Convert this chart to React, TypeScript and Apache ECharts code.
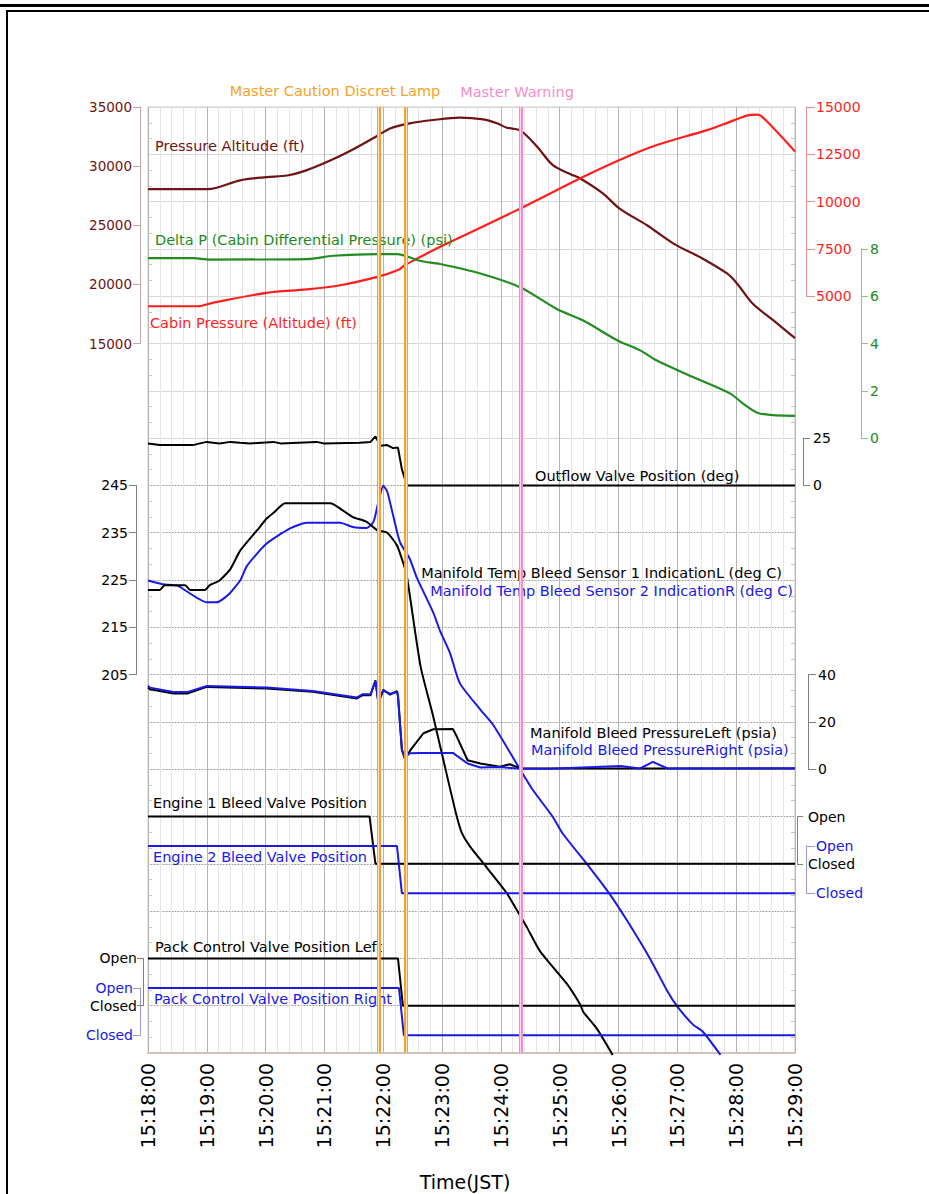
import React, { useEffect, useRef } from "react";
import * as echarts from "echarts";

// ---------- tick labels ----------
const timeLabels = ["15:18:00", "15:19:00", "15:20:00", "15:21:00", "15:22:00", "15:23:00", "15:24:00", "15:25:00", "15:26:00", "15:27:00", "15:28:00", "15:29:00"];
const tempTicks = [205, 215, 225, 235, 245];

// ---------- data (t = seconds after 15:18:00) ----------
const altT = [0, 61, 94, 121, 142, 160, 183, 209, 234, 247, 267, 291, 318, 342, 356, 366, 380, 397, 413, 431, 441, 464, 481, 509, 536, 566, 591, 601, 617, 638, 660];
const altV = [28050, 28050, 28800, 29070, 29210, 29600, 30360, 31410, 32570, 33190, 33620, 33900, 34100, 33950, 33620, 33250, 33000, 31640, 30080, 29320, 28950, 27690, 26410, 25000, 23450, 22170, 20900, 20060, 18360, 16950, 15450];

const cabT = [0, 51, 66, 121, 162, 196, 234, 255, 262, 278, 298, 380, 441, 481, 519, 570, 597, 614, 622, 630, 660];
const cabV = [4470, 4470, 4650, 5180, 5360, 5580, 6020, 6380, 6640, 7080, 7610, 9640, 11230, 12200, 12990, 13780, 14280, 14580, 14600, 14310, 12650];

const dpT = [0, 46, 63, 162, 189, 234, 254, 278, 298, 339, 380, 417, 444, 479, 502, 519, 556, 594, 607, 624, 660];
const dpV = [7.61, 7.61, 7.55, 7.57, 7.71, 7.78, 7.78, 7.49, 7.36, 6.96, 6.37, 5.46, 4.97, 4.13, 3.71, 3.28, 2.58, 1.88, 1.46, 1.04, 0.94];

const ofT = [0, 12, 46, 53, 60, 73, 84, 94, 104, 128, 135, 172, 179, 216, 227, 232, 237, 244, 250, 255, 259, 264, 660];
const ofV = [22.2, 21.3, 21.3, 22.2, 23.0, 22.2, 23.0, 22.5, 22.2, 23.0, 22.2, 23.0, 22.2, 22.5, 23.0, 25.9, 20.9, 21.3, 19.7, 20.0, 8.5, 0, 0];

const tempLT = [0, 12, 17, 38, 43, 58, 63, 73, 84, 94, 114, 121, 128, 140, 186, 196, 209, 223, 234, 244, 254, 260, 264, 278, 291, 308, 315, 320, 328, 346, 366, 380, 387, 400, 427, 441, 444, 458, 474];
const tempLV = [222.9, 222.9, 223.9, 223.9, 222.9, 222.9, 223.9, 224.9, 227.3, 231.2, 236.2, 238.0, 239.2, 241.2, 241.2, 240.1, 238.3, 237.3, 235.5, 235.0, 232.3, 228.8, 225.9, 206.8, 196.1, 181.0, 175.0, 171.6, 168.8, 164.1, 158.8, 153.9, 151.4, 146.5, 139.7, 135.2, 133.7, 130.1, 124.6];

const tempRT = [0, 15, 30, 60, 70, 81, 94, 101, 121, 145, 162, 196, 209, 223, 230, 235, 240, 244, 250, 257, 267, 274, 291, 298, 308, 318, 339, 352, 372, 380, 393, 413, 423, 451, 471, 489, 512, 530, 540, 556, 566, 584];
const tempRV = [224.9, 224.1, 223.8, 220.3, 220.3, 221.7, 224.9, 228.0, 232.7, 235.9, 237.1, 237.1, 236.2, 236.0, 237.3, 241.5, 244.9, 243.7, 238.7, 233.0, 229.5, 225.6, 218.1, 214.2, 209.6, 203.2, 197.6, 194.4, 187.6, 184.8, 180.5, 174.9, 171.4, 164.1, 158.6, 152.9, 145.0, 138.0, 134.8, 131.0, 129.5, 124.6];

const bleedLT = [0, 2, 26, 40, 60, 121, 168, 213, 219, 227, 232, 235, 240, 247, 254, 255, 259, 262, 269, 281, 291, 311, 315, 326, 339, 359, 369, 380, 660];
const bleedLV = [34.5, 33.8, 32.0, 32.0, 34.8, 34.1, 32.7, 29.9, 31.3, 31.3, 37.6, 28.0, 33.6, 31.5, 33.0, 31.0, 8.1, 4.5, 8.8, 15.2, 16.9, 17.0, 13.8, 3.8, 2.4, 1.0, 2.1, 0.3, 0.3];

const bleedRT = [0, 2, 26, 40, 60, 121, 168, 213, 219, 227, 232, 235, 240, 247, 254, 255, 259, 262, 267, 278, 311, 326, 339, 359, 380, 410, 482, 502, 515, 530, 660];
const bleedRV = [35.3, 34.5, 32.6, 32.6, 35.2, 34.5, 33.1, 30.3, 31.7, 31.7, 37.2, 28.4, 33.2, 31.9, 32.6, 31.2, 8.3, 4.8, 6.7, 6.9, 6.9, 2.4, 0.7, 0.9, 0.2, 0.2, 1.4, 0.3, 3.1, 0.3, 0.4];

const eng1T = [0, 226, 232, 660];
const eng1V = [1, 1, 0, 0];
const eng2T = [0, 254, 259, 660];
const eng2V = [1, 1, 0, 0];
const packLT = [0, 255, 260, 660];
const packLV = [1, 1, 0, 0];
const packRT = [0, 256, 261, 660];
const packRV = [1, 1, 0, 0];

const cautionTimes = [235, 263];
const warningTimes = [380];

// ---------- styling ----------
const FONT = "DejaVu Sans";
const C_MAROON = "#6e1414";
const C_RED = "#ff1e1e";
const C_GREEN = "#228b22";
const C_BLACK = "#000000";
const C_BLUE = "#1a1ae6";
const C_ORANGE = "#f7a12a";
const C_PINK = "#f78ccc";

const L = 148, T = 107, W = 647, H = 946, ROW = H / 20;

const zip = (t: number[], v: number[]) => t.map((x, i) => [x, v[i]]);

function yAxisCfg(o: any) {
  return {
    gridIndex: o.grid,
    type: "value",
    position: o.pos,
    offset: o.offset,
    min: o.min,
    max: o.max,
    interval: o.interval,
    axisLine: { show: true, onZero: false, lineStyle: { color: o.lineColor, width: 1 } },
    axisTick: { show: true, length: o.tick, lineStyle: { color: o.lineColor }, customValues: o.custom },
    axisLabel: {
      show: true,
      color: o.color,
      fontFamily: FONT,
      fontSize: o.fontSize || 14,
      margin: o.margin,
      formatter: o.fmt || ((v: number) => String(v)),
      customValues: o.custom,
    },
    splitLine: { show: false },
  };
}

const openClosed = (v: number) => (v >= 1 ? "Open" : "Closed");

function lineSeries(name: string, xi: number, yi: number, data: number[][], color: string, smooth: number | boolean = 0.25, width = 2) {
  return {
    name,
    type: "line",
    xAxisIndex: xi,
    yAxisIndex: yi,
    data,
    symbol: "none",
    clip: false,
    smooth,
    z: 3,
    lineStyle: { color, width },
    itemStyle: { color },
    silent: true,
  };
}

function markerSeries(times: number[], color: string, width: number, z: number) {
  return {
    type: "line",
    xAxisIndex: 0,
    yAxisIndex: 0,
    data: [],
    z,
    silent: true,
    markLine: {
      silent: true,
      symbol: ["none", "none"],
      label: { show: false },
      lineStyle: { color, width, type: "solid", opacity: 1 },
      data: times.map((t) => ({ xAxis: t })),
      z,
    },
  };
}

function txt(text: string, x: number, y: number, fill: string, align = "left", size = 14.5) {
  return {
    type: "text",
    x,
    y,
    z: 10,
    silent: true,
    style: {
      text,
      fill,
      fontFamily: FONT,
      fontSize: size,
      textAlign: align,
      align,
      textVerticalAlign: "middle",
      verticalAlign: "middle",
    },
  };
}

export default function App() {
  const ref = useRef<HTMLDivElement>(null);

  useEffect(() => {
    if (!ref.current) return;
    const chart = echarts.init(ref.current, undefined, { renderer: "svg" });

    const g = (top: number, height: number) => ({ left: L, top, width: W, height, show: false });
    const grids = [
      { left: L, top: T, width: W, height: H, show: true, borderColor: "#c8c8c8", borderWidth: 1, backgroundColor: "transparent" },
      g(T, 5 * ROW), // 1 pressure altitude
      g(T, 4 * ROW), // 2 cabin pressure
      g(T + 3 * ROW, 4 * ROW), // 3 delta P
      g(T + 7 * ROW, ROW), // 4 outflow
      g(T + 8 * ROW, 4 * ROW), // 5 manifold temp
      g(T + 12 * ROW, 2 * ROW), // 6 bleed pressure
      g(T + 15 * ROW, ROW), // 7 engine 1
      g(846, ROW), // 8 engine 2
      g(T + 18 * ROW, ROW), // 9 pack L
      g(988, ROW), // 10 pack R
      g(T + 8 * ROW, 12 * ROW), // 11 dotted rows of lower panels
    ];

    const xAxes: any[] = [
      {
        gridIndex: 0,
        type: "value",
        min: 0,
        max: 660,
        interval: 60,
        axisLine: { show: true, lineStyle: { color: "#d2c2bc", width: 2 } },
        axisTick: { show: false },
        axisLabel: {
          rotate: 90,
          color: "#000",
          fontFamily: FONT,
          fontSize: 19,
          margin: 10,
          formatter: (v: number) => timeLabels[Math.round(v / 60)] || "",
        },
        splitLine: { show: true, lineStyle: { color: "#b4b4b4", width: 1 } },
        minorTick: { show: false, splitNumber: 5 },
        minorSplitLine: { show: true, lineStyle: { color: "#e6e6e6", width: 1 } },
      },
    ];
    for (let i = 1; i < grids.length; i++) {
      xAxes.push({ gridIndex: i, type: "value", min: 0, max: 660, show: false });
    }

    const bgY = (pos: string, split: boolean) => ({
      gridIndex: 0,
      type: "value",
      position: pos,
      min: 0,
      max: 20,
      interval: 1,
      axisLine: { show: false },
      axisLabel: { show: false },
      axisTick: { show: false, inside: true },
      minorTick: { show: true, splitNumber: 3, length: 4, lineStyle: { color: "#c4c4c4" } },
      splitLine: { show: split, lineStyle: { color: "#d8d8d8", width: 1 } },
    });

    const yAxes: any[] = [
      bgY("left", true), // 0
      bgY("right", false), // 1
      yAxisCfg({ grid: 1, pos: "left", offset: 8, min: 15000, max: 35000, interval: 5000, color: C_MAROON, lineColor: "#c8a4a4", tick: 7, margin: 8, fontSize: 13.5 }), // 2
      yAxisCfg({ grid: 2, pos: "right", offset: 11, min: 5000, max: 15000, interval: 2500, color: C_RED, lineColor: "#ec8c8c", tick: 9, margin: 10 }), // 3
      yAxisCfg({ grid: 3, pos: "right", offset: 66, min: 0, max: 8, interval: 2, color: C_GREEN, lineColor: "#8cc48c", tick: 7, margin: 9 }), // 4
      yAxisCfg({ grid: 4, pos: "right", offset: 8, min: 0, max: 25, interval: 25, color: C_BLACK, lineColor: "#808080", tick: 7, margin: 10 }), // 5
      yAxisCfg({ grid: 5, pos: "left", offset: 12, min: 205, max: 245, interval: 10, color: C_BLACK, lineColor: "#808080", tick: 7, margin: 8, custom: tempTicks }), // 6
      yAxisCfg({ grid: 6, pos: "right", offset: 13, min: 0, max: 40, interval: 20, color: C_BLACK, lineColor: "#808080", tick: 8, margin: 10 }), // 7
      yAxisCfg({ grid: 7, pos: "right", offset: 2, min: 0, max: 1, interval: 1, color: C_BLACK, lineColor: "#808080", tick: 6, margin: 11, fmt: openClosed }), // 8
      yAxisCfg({ grid: 8, pos: "right", offset: 11, min: 0, max: 1, interval: 1, color: C_BLUE, lineColor: "#9c9cdc", tick: 9, margin: 10, fmt: openClosed }), // 9
      yAxisCfg({ grid: 9, pos: "left", offset: 5, min: 0, max: 1, interval: 1, color: C_BLACK, lineColor: "#808080", tick: 6, margin: 6, fmt: openClosed }), // 10
      yAxisCfg({ grid: 10, pos: "left", offset: 8, min: 0, max: 1, interval: 1, color: C_BLUE, lineColor: "#9c9cdc", tick: 7, margin: 7, fmt: openClosed }), // 11
      {
        gridIndex: 11,
        type: "value",
        min: 0,
        max: 12,
        interval: 1,
        axisLine: { show: false },
        axisTick: { show: false },
        axisLabel: { show: false },
        splitLine: { show: true, lineStyle: { color: "#9a9a9a", width: 1, type: [1, 2] } },
      }, // 12
    ];

    const series: any[] = [
      lineSeries("Pressure Altitude (ft)", 1, 2, zip(altT, altV), C_MAROON, 0.3, 2.2),
      lineSeries("Cabin Pressure (Altitude) (ft)", 2, 3, zip(cabT, cabV), C_RED, 0.3, 2.2),
      lineSeries("Delta P (Cabin Differential Pressure) (psi)", 3, 4, zip(dpT, dpV), C_GREEN, 0.3, 2.2),
      lineSeries("Outflow Valve Position (deg)", 4, 5, zip(ofT, ofV), C_BLACK, false),
      lineSeries("Manifold Temp Bleed Sensor 2 IndicationR (deg C)", 5, 6, zip(tempRT, tempRV), C_BLUE, 0.2),
      lineSeries("Manifold Temp Bleed Sensor 1 IndicationL (deg C)", 5, 6, zip(tempLT, tempLV), C_BLACK, 0.2),
      lineSeries("Manifold Bleed PressureLeft (psia)", 6, 7, zip(bleedLT, bleedLV), C_BLACK, false),
      lineSeries("Manifold Bleed PressureRight (psia)", 6, 7, zip(bleedRT, bleedRV), C_BLUE, false),
      lineSeries("Engine 1 Bleed Valve Position", 7, 8, zip(eng1T, eng1V), C_BLACK, false),
      lineSeries("Engine 2 Bleed Valve Position", 8, 9, zip(eng2T, eng2V), C_BLUE, false),
      lineSeries("Pack Control Valve Position Left", 9, 10, zip(packLT, packLV), C_BLACK, false),
      lineSeries("Pack Control Valve Position Right", 10, 11, zip(packRT, packRV), C_BLUE, false),
      markerSeries(cautionTimes, C_ORANGE, 4, 20),
      markerSeries(cautionTimes, "#fde4bd", 1, 21),
      markerSeries(warningTimes, C_PINK, 4, 20),
      markerSeries(warningTimes, "#ffd2ec", 1, 21),
    ];

    const graphic: any[] = [
      { type: "rect", z: 0, silent: true, shape: { x: 0, y: 4, width: 929, height: 3 }, style: { fill: "#000" } },
      { type: "rect", z: 0, silent: true, shape: { x: 7, y: 11, width: 940, height: 1200 }, style: { fill: "none", stroke: "#000", lineWidth: 2 } },
      txt("Master Caution Discret Lamp", 335, 91, C_ORANGE, "center"),
      txt("Master Warning", 517, 92, C_PINK, "center"),
      txt("Pressure Altitude (ft)", 155, 146, C_MAROON),
      txt("Delta P (Cabin Differential Pressure) (psi)", 155, 240, C_GREEN),
      txt("Cabin Pressure (Altitude) (ft)", 150, 323, C_RED),
      txt("Outflow Valve Position (deg)", 535, 476, C_BLACK),
      txt("Manifold Temp Bleed Sensor 1 IndicationL (deg C)", 782, 573, C_BLACK, "right"),
      txt("Manifold Temp Bleed Sensor 2 IndicationR (deg C)", 793, 591, C_BLUE, "right"),
      txt("Manifold Bleed PressureLeft (psia)", 530, 733, C_BLACK),
      txt("Manifold Bleed PressureRight (psia)", 531, 750, C_BLUE),
      txt("Engine 1 Bleed Valve Position", 153, 803, C_BLACK),
      txt("Engine 2 Bleed Valve Position", 153, 857, C_BLUE),
      txt("Pack Control Valve Position Left", 155, 947, C_BLACK),
      txt("Pack Control Valve Position Right", 154, 999, C_BLUE),
      txt("Time(JST)", 465, 1182, C_BLACK, "center", 19),
    ];

    chart.setOption({
      animation: false,
      backgroundColor: "#ffffff",
      textStyle: { fontFamily: FONT },
      grid: grids,
      xAxis: xAxes,
      yAxis: yAxes,
      series,
      graphic,
    });

    return () => chart.dispose();
  }, []);

  return <div ref={ref} style={{ position: "absolute", left: 0, top: 0, width: 929, height: 1194 }} />;
}
